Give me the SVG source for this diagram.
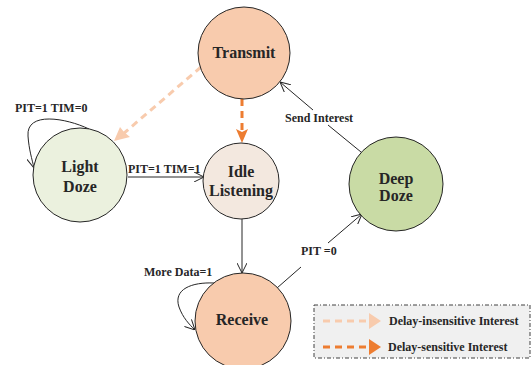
<svg xmlns="http://www.w3.org/2000/svg" width="531" height="365" viewBox="0 0 531 365">
  <style>
    .node { stroke: #262626; stroke-width: 1; }
    .nlabel { font-family: "Liberation Serif", "Times New Roman", serif; font-weight: bold; font-size: 16px; fill: #262626; text-anchor: middle; }
    .elabel { font-family: "Liberation Serif", "Times New Roman", serif; font-weight: bold; font-size: 12px; fill: #262626; }
    .edge { fill: none; stroke: #262626; stroke-width: 1; }
    .dash-light { fill: none; stroke: #f8cbad; stroke-width: 3; stroke-dasharray: 7 5; }
    .dash-dark { fill: none; stroke: #ed7d31; stroke-width: 3; stroke-dasharray: 7 5; }
  </style>
  <defs>
    <marker id="open" viewBox="0 0 10 10" refX="10" refY="5" markerWidth="10" markerHeight="10" markerUnits="userSpaceOnUse" orient="auto">
      <path d="M0,0 L10,5 L0,10" fill="none" stroke="#262626" stroke-width="1"/>
    </marker>
  </defs>

  <rect width="531" height="365" fill="#ffffff"/>

  <!-- connectors -->
  <g id="connectors">
    <!-- delay-insensitive: Transmit to Light Doze -->
    <path class="dash-light" d="M201,67 L123,134"/>
    <path d="M114,141 L120,127 L124,132 L130,137 Z" fill="#f8cbad"/>
    <!-- delay-sensitive: Transmit to Idle Listening -->
    <path class="dash-dark" d="M242,99 L242,131"/>
    <path d="M242,143 L236,129 L242,132 L248,129 Z" fill="#ed7d31"/>
    <!-- Light Doze self loop -->
    <path class="edge" d="M89,129 C66,118 26,111 28,136 C29,150 32,159 34,168" marker-end="url(#open)"/>
    <!-- Light Doze to Idle Listening -->
    <path class="edge" d="M128,177 L204,177" marker-end="url(#open)"/>
    <!-- Idle Listening to Receive -->
    <path class="edge" d="M242,219 L242,273" marker-end="url(#open)"/>
    <!-- Receive self loop -->
    <path class="edge" d="M214,283 C192,282 173,289 179,307 C183,318 189,324 195,330" marker-end="url(#open)"/>
    <!-- Receive to Deep Doze -->
    <path class="edge" d="M277,288 L301,267"/>
    <path class="edge" d="M328,243 L362,214" marker-end="url(#open)"/>
    <!-- Deep Doze to Transmit -->
    <path class="edge" d="M361,152 L328,125"/>
    <path class="edge" d="M313,110 L280,82" marker-end="url(#open)"/>
  </g>

  <!-- edge labels -->
  <g id="edge-labels">
    <text class="elabel" x="15" y="112">PIT=1 TIM=0</text>
    <text class="elabel" x="128" y="173">PIT=1 TIM=1</text>
    <text class="elabel" x="285" y="122">Send Interest</text>
    <text class="elabel" x="144" y="276">More Data=1</text>
    <text class="elabel" x="301" y="255">PIT =0</text>
  </g>

  <!-- nodes -->
  <g id="transmit">
    <circle class="node" cx="244" cy="53" r="46" fill="#f8cbad"/>
    <text class="nlabel" x="244" y="58">Transmit</text>
  </g>
  <g id="light-doze">
    <circle class="node" cx="80" cy="175" r="47" fill="#ebf1de"/>
    <text class="nlabel" x="80" y="172">Light</text>
    <text class="nlabel" x="80" y="192">Doze</text>
  </g>
  <g id="idle-listening">
    <circle class="node" cx="241" cy="181" r="38" fill="#f3e8df"/>
    <text class="nlabel" x="241" y="177">Idle</text>
    <text class="nlabel" x="241" y="196">Listening</text>
  </g>
  <g id="deep-doze">
    <circle class="node" cx="396" cy="184" r="47" fill="#c9dba5"/>
    <text class="nlabel" x="396" y="184">Deep</text>
    <text class="nlabel" x="396" y="201">Doze</text>
  </g>
  <g id="receive">
    <circle class="node" cx="243" cy="321" r="48" fill="#f8cbad"/>
    <text class="nlabel" x="242" y="325">Receive</text>
  </g>

  <!-- legend -->
  <g id="legend">
    <rect x="314" y="305" width="216" height="53" fill="#f0f0f0" stroke="#404040" stroke-width="1" stroke-dasharray="4 2 1 2"/>
    <path class="dash-light" d="M323,321 L368,321"/>
    <path d="M381,321 L369,313 L369,329 Z" fill="#f8cbad"/>
    <path class="dash-dark" d="M323,347 L368,347"/>
    <path d="M381,347 L369,339 L369,355 Z" fill="#ed7d31"/>
    <text class="elabel" x="389" y="325">Delay-insensitive Interest</text>
    <text class="elabel" x="388" y="351">Delay-sensitive Interest</text>
  </g>
</svg>
